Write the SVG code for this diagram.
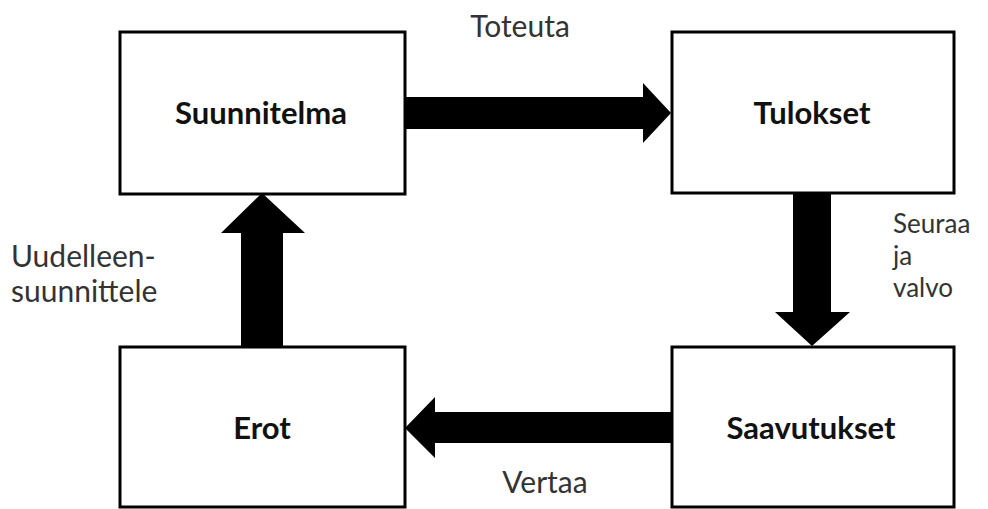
<svg xmlns="http://www.w3.org/2000/svg" width="988" height="509" viewBox="0 0 988 509">
  <style>
    .box { fill: #ffffff; stroke: #000000; stroke-width: 3; }
    .title { font-family: Lato, "Open Sans", "Liberation Sans", sans-serif; font-weight: bold; font-size: 31px; fill: #111111; text-anchor: middle; }
    .label { font-family: Lato, "Open Sans", "Liberation Sans", sans-serif; font-size: 30px; fill: #333333; }
    .stack { font-size: 26px; }
    .arrow { fill: #000000; }
  </style>
  <rect width="988" height="509" fill="#ffffff"/>

  <g id="connectors">
    <!-- Suunnitelma -> Tulokset -->
    <polygon class="arrow" points="405,97 643,97 643,83 671,113 643,143 643,129 405,129"/>
    <!-- Tulokset -> Saavutukset -->
    <polygon class="arrow" points="793,193 831,193 831,312 850,312 812,346 775,312 793,312"/>
    <!-- Saavutukset -> Erot -->
    <polygon class="arrow" points="672,412 435,412 435,397 405,428 435,458 435,443 672,443"/>
    <!-- Erot -> Suunnitelma -->
    <polygon class="arrow" points="241,347 241,233 221,233 262,193 305,233 283,233 283,347"/>
    <text class="label" x="520" y="37" text-anchor="middle">Toteuta</text>
    <text class="label stack" x="893" y="233">Seuraa</text>
    <text class="label stack" x="893" y="265">ja</text>
    <text class="label stack" x="893" y="297">valvo</text>
    <text class="label" x="545" y="493" text-anchor="middle">Vertaa</text>
    <text class="label" x="11" y="267">Uudelleen-</text>
    <text class="label" x="11" y="302">suunnittele</text>
  </g>

  <g id="suunnitelma">
    <rect class="box" x="120" y="32" width="285" height="162"/>
    <text class="title" x="261" y="124">Suunnitelma</text>
  </g>
  <g id="tulokset">
    <rect class="box" x="672" y="32" width="282" height="161"/>
    <text class="title" x="812" y="124">Tulokset</text>
  </g>
  <g id="saavutukset">
    <rect class="box" x="672" y="347" width="282" height="160"/>
    <text class="title" x="811" y="439">Saavutukset</text>
  </g>
  <g id="erot">
    <rect class="box" x="120" y="347" width="285" height="160"/>
    <text class="title" x="262" y="439">Erot</text>
  </g>
</svg>
